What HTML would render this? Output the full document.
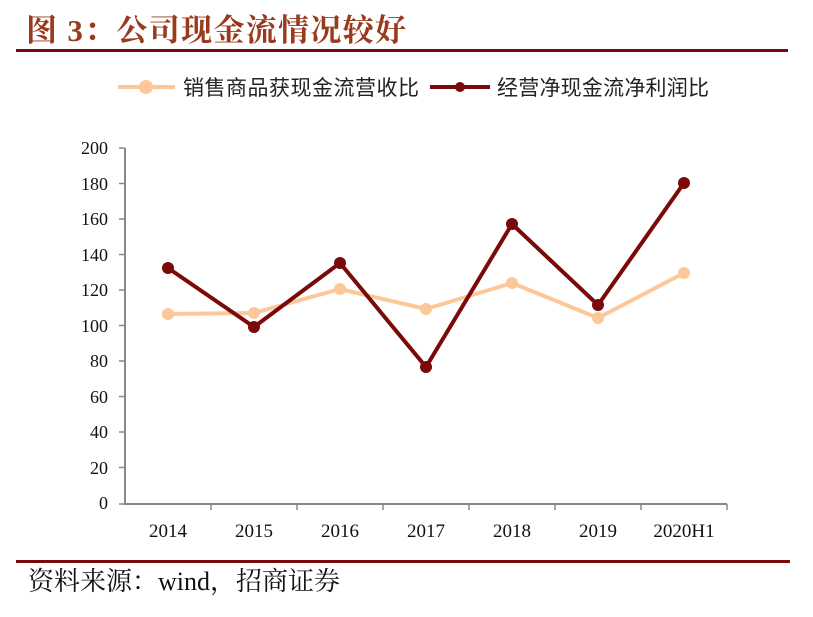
<!DOCTYPE html>
<html><head><meta charset="utf-8"><style>
body{margin:0;background:#fff;width:813px;height:612px;overflow:hidden}
</style></head><body>
<svg width="813" height="612" xmlns="http://www.w3.org/2000/svg" font-family="'Liberation Serif','Noto Serif CJK SC',serif">
<text x="26" y="41" font-size="31" font-weight="bold" fill="#9a3a1c" textLength="380" font-family="'Liberation Serif','Noto Serif CJK SC',serif">图 3：公司现金流情况较好</text>
<rect x="16" y="49" width="772" height="3" fill="#7a0a0a"/>
<g font-family="'Liberation Sans','Noto Sans CJK SC',sans-serif" font-size="21" fill="#222">
<line x1="118" y1="87" x2="175" y2="87" stroke="#fcc89a" stroke-width="4"/>
<circle cx="146" cy="87" r="7" fill="#fcc89a"/>
<text x="183" y="95" textLength="236">销售商品获现金流营收比</text>
<line x1="430" y1="87" x2="490" y2="87" stroke="#7a0a0a" stroke-width="4"/>
<circle cx="460" cy="87" r="5" fill="#7a0a0a"/>
<text x="497" y="95" textLength="212">经营净现金流净利润比</text>
</g>
<g stroke="#888" stroke-width="2" fill="none">
<line x1="125" y1="148" x2="125" y2="504"/>
<line x1="124" y1="504" x2="727" y2="504"/>
</g>
<g stroke="#888" stroke-width="1.5">
<line x1="119" y1="148" x2="125" y2="148"/><line x1="119" y1="183.5" x2="125" y2="183.5"/>
<line x1="119" y1="219" x2="125" y2="219"/><line x1="119" y1="254.5" x2="125" y2="254.5"/>
<line x1="119" y1="290" x2="125" y2="290"/><line x1="119" y1="325.5" x2="125" y2="325.5"/>
<line x1="119" y1="361" x2="125" y2="361"/><line x1="119" y1="396.5" x2="125" y2="396.5"/>
<line x1="119" y1="432" x2="125" y2="432"/><line x1="119" y1="467.5" x2="125" y2="467.5"/>
<line x1="119" y1="504" x2="125" y2="504"/>
<line x1="211" y1="504" x2="211" y2="510"/><line x1="297" y1="504" x2="297" y2="510"/>
<line x1="383" y1="504" x2="383" y2="510"/><line x1="469" y1="504" x2="469" y2="510"/>
<line x1="555" y1="504" x2="555" y2="510"/><line x1="641" y1="504" x2="641" y2="510"/>
<line x1="727" y1="504" x2="727" y2="510"/>
</g>
<g font-size="18" fill="#111" text-anchor="end">
<text x="108" y="154">200</text><text x="108" y="190">180</text><text x="108" y="225">160</text>
<text x="108" y="261">140</text><text x="108" y="296">120</text><text x="108" y="332">100</text>
<text x="108" y="367">80</text><text x="108" y="403">60</text><text x="108" y="438">40</text>
<text x="108" y="474">20</text><text x="108" y="509">0</text>
</g>
<g font-size="19" fill="#111" text-anchor="middle">
<text x="168" y="537">2014</text><text x="254" y="537">2015</text><text x="340" y="537">2016</text>
<text x="426" y="537">2017</text><text x="512" y="537">2018</text><text x="598" y="537">2019</text>
<text x="684" y="537">2020H1</text>
</g>
<polyline fill="none" stroke="#fcc89a" stroke-width="4" stroke-linejoin="round" points="168,314 254,313 340,289 426,309 512,283 598,318 684,273"/>
<g fill="#fcc89a"><circle cx="168" cy="314" r="6"/><circle cx="254" cy="313" r="6"/><circle cx="340" cy="289" r="6"/><circle cx="426" cy="309" r="6"/><circle cx="512" cy="283" r="6"/><circle cx="598" cy="318" r="6"/><circle cx="684" cy="273" r="6"/></g>
<polyline fill="none" stroke="#7a0a0a" stroke-width="4" stroke-linejoin="round" points="168,268 254,327 340,263 426,367 512,224 598,305 684,183"/>
<g fill="#7a0a0a"><circle cx="168" cy="268" r="6"/><circle cx="254" cy="327" r="6"/><circle cx="340" cy="263" r="6"/><circle cx="426" cy="367" r="6"/><circle cx="512" cy="224" r="6"/><circle cx="598" cy="305" r="6"/><circle cx="684" cy="183" r="6"/></g>
<rect x="16" y="560" width="774" height="3" fill="#7a0a0a"/>
<text x="28" y="590" font-size="26" fill="#111">资料来源：wind，招商证券</text>
</svg>
</body></html>
